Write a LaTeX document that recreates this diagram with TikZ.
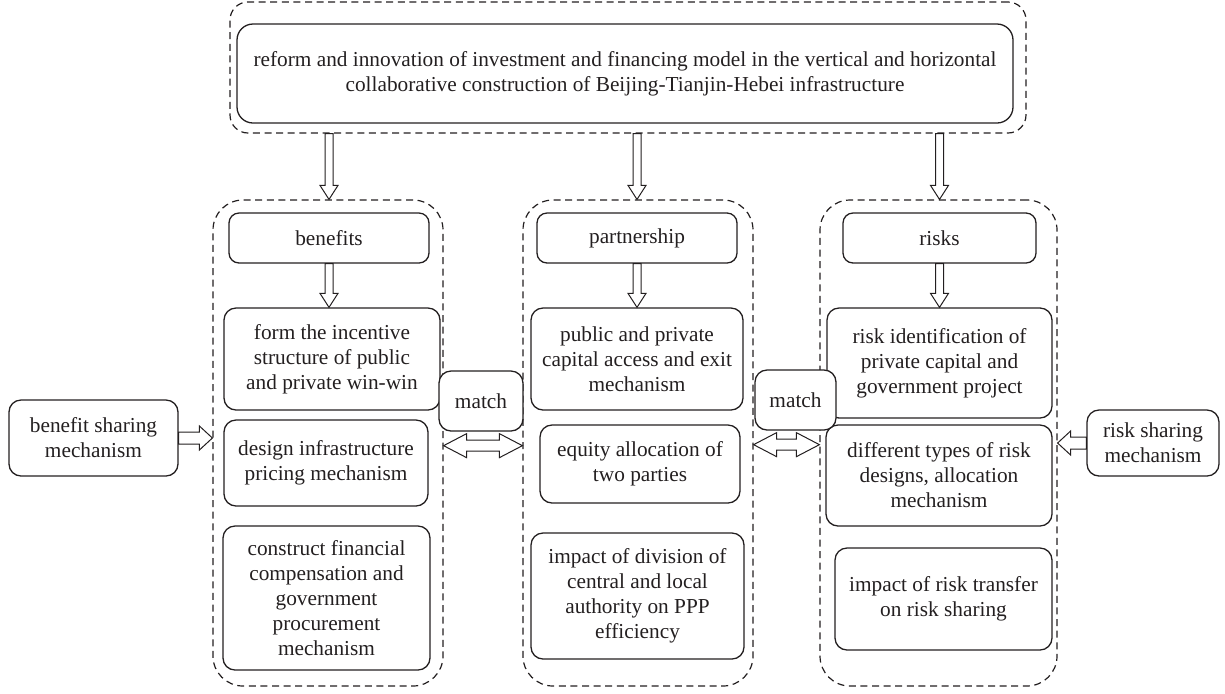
\documentclass[tikz,border=0pt]{standalone}
\usepackage{fontspec}
\setmainfont{Liberation Serif}
\usetikzlibrary{calc}
\definecolor{ink}{HTML}{231F20}

% hollow block arrows
\newcommand{\downblock}[2]{%
  \draw[block] let \p1=(#1), \p2=(#2), \p3=($(#2)!7pt!(#1)$) in
    (\x1-2pt,\y1) -- (\x1-2pt,\y3) -- (\x1-4.5pt,\y3) -- (\x1,\y2)
    -- (\x1+4.5pt,\y3) -- (\x1+2pt,\y3) -- (\x1+2pt,\y1) -- cycle;}
\newcommand{\sideblock}[2]{%
  \draw[block] let \p1=(#1), \p2=(#2), \p3=($(#2)!6.5pt!(#1)$) in
    (\x1,\y1+3pt) -- (\x3,\y1+3pt) -- (\x3,\y1+6pt) -- (\x2,\y1)
    -- (\x3,\y1-6pt) -- (\x3,\y1-3pt) -- (\x1,\y1-3pt) -- cycle;}
\newcommand{\bothblock}[2]{%
  \draw[block] let \p1=(#1), \p2=(#2), \p3=($(#1)!11.5pt!(#2)$), \p4=($(#2)!11.5pt!(#1)$) in
    (\x1,\y1) -- (\x3,\y1+6pt) -- (\x3,\y1+2.75pt) -- (\x4,\y1+2.75pt) -- (\x4,\y1+6pt)
    -- (\x2,\y1) -- (\x4,\y1-6pt) -- (\x4,\y1-2.75pt) -- (\x3,\y1-2.75pt) -- (\x3,\y1-6pt) -- cycle;}

\begin{document}
\begin{tikzpicture}[x=0.5pt, y=-0.5pt,
  font=\fontsize{10.65}{12.5}\selectfont,
  box/.style={draw=ink, line width=0.65pt, rounded corners=6pt, align=center, inner sep=0pt, text=ink},
  head/.style={box, rounded corners=5pt, minimum width=100pt, minimum height=25pt},
  group/.style={draw=ink, line width=0.6pt, dash pattern=on 3.5pt off 2.3pt, rounded corners=15pt, inner sep=0pt},
  matchbox/.style={box, fill=white, minimum width=42pt, minimum height=30pt},
  block/.style={draw=ink, line width=0.5pt, fill=white, line join=miter}]

  \useasboundingbox (0,0) rectangle (1225,693);

  % Top
  \node[group, rounded corners=9pt, minimum width=398pt, minimum height=65.5pt] (topg) at (628,67.5) {};
  \node[box, rounded corners=8pt, minimum width=388pt, minimum height=49.5pt] (top) at (625,73.5)
    {reform and innovation of investment and financing model in the vertical and horizontal\\
     collaborative construction of Beijing-Tianjin-Hebei infrastructure};

  % Columns
  \node[group, minimum width=115pt, minimum height=243pt] (colL) at (328,443) {};
  \node[group, minimum width=115pt, minimum height=243pt] (colM) at (638,443) {};
  \node[group, minimum width=118.5pt, minimum height=243pt] (colR) at (938.5,443) {};

  % Headers
  \node[head] (ben) at (329,238) {benefits};
  \node[head] (par) at (637,238) {partnership};
  \node[head, minimum width=96.5pt] (rsk) at (939.5,238) {risks};

  % Benefits
  \node[box, minimum width=108pt, minimum height=51pt] (L1) at (332,359) {form the incentive\\structure of public\\and private win-win};
  \node[box, minimum width=102pt, minimum height=43pt] (L2) at (326,463) {design infrastructure\\pricing mechanism};
  \node[box, minimum width=103.5pt, minimum height=72pt] (L3) at (326.5,598) {construct financial\\compensation and\\government\\procurement\\mechanism};

  % Partnership
  \node[box, minimum width=106pt, minimum height=51pt] (M1) at (637,359) {public and private\\capital access and exit\\mechanism};
  \node[box, minimum width=100pt, minimum height=39pt] (M2) at (640,464) {equity allocation of\\two parties};
  \node[box, minimum width=106.5pt, minimum height=63pt] (M3) at (637.5,596) {impact of division of\\central and local\\authority on PPP\\efficiency};

  % Risks
  \node[box, minimum width=112.5pt, minimum height=55pt] (R1) at (939.5,363) {risk identification of\\private capital and\\government project};
  \node[box, minimum width=113pt, minimum height=50.5pt] (R2) at (939,475.5) {different types of risk\\designs, allocation\\mechanism};
  \node[box, minimum width=108.5pt, minimum height=51pt] (R3) at (943.5,599) {impact of risk transfer\\on risk sharing};

  % Sharing mechanisms
  \node[box, minimum width=84.5pt, minimum height=38pt] (bsm) at (93.5,438) {benefit sharing\\mechanism};
  \node[box, minimum width=66pt, minimum height=33pt] (rsm) at (1153,443) {risk sharing\\mechanism};

  % Match
  \node[matchbox] (m1) at (481,401) {match};
  \node[matchbox, minimum width=40.5pt] (m2) at (795.5,400) {match};

  % Arrows down
  \downblock{topg.south -| ben.north}{colL.north -| ben.north}
  \downblock{topg.south -| par.north}{colM.north -| par.north}
  \downblock{topg.south -| rsk.north}{colR.north -| rsk.north}
  \downblock{ben.south}{L1.north -| ben.south}
  \downblock{par.south}{M1.north -| par.south}
  \downblock{rsk.south}{R1.north -| rsk.south}

  % Arrows in from the sides
  \sideblock{bsm.east}{bsm.east -| colL.west}
  \sideblock{rsm.west}{rsm.west -| colR.east}

  % Match arrows
  \coordinate (a1) at ($(m1.south -| colL.east)+(0,-7pt)$);
  \coordinate (b1) at ($(m1.south -| colM.west)+(0,-7pt)$);
  \coordinate (a2) at ($(m2.south -| colM.east)+(0,-7pt)$);
  \coordinate (b2) at ($(m2.south -| colR.west)+(0,-7pt)$);
  \bothblock{a1}{b1}
  \bothblock{a2}{b2}
\end{tikzpicture}
\end{document}
